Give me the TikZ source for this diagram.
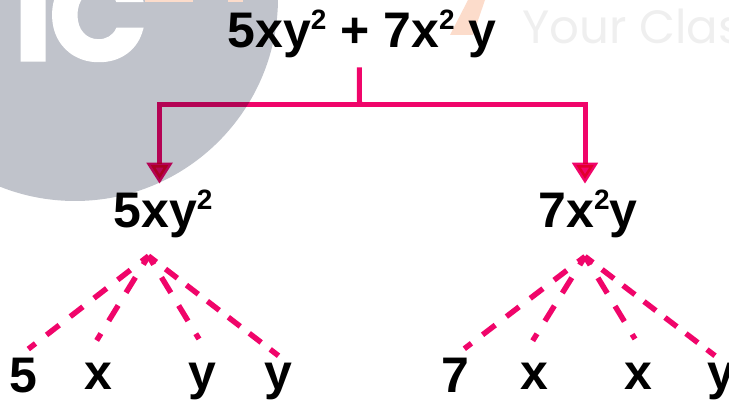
\documentclass[tikz,border=0pt]{standalone}
\usepackage{fontspec}
\setmainfont{Liberation Sans}
\newfontfamily\markfont{Poppins}
\newfontfamily\markheavy[UprightFont=* Bold,FakeBold=2.5]{Poppins}
\usetikzlibrary{arrows.meta, positioning}
\definecolor{pinkline}{HTML}{F0056A}
\definecolor{markgray}{HTML}{C0C3CB}
\definecolor{markpeach}{HTML}{FCDCCB}
\definecolor{marktext}{HTML}{EFEFEF}
\newcommand{\sqd}{\raisebox{14pt}{\fontsize{21}{21}\selectfont\bfseries 2}}
\tikzset{
  term/.style={anchor=base,inner sep=0pt,text height=26.25pt,text depth=0pt,font=\fontsize{37.5}{38}\selectfont\bfseries},
  branch/.style={draw=pinkline,line width=3.75pt,blend mode=multiply},
  arrowline/.style={branch,-{Triangle[width=18.75pt,length=15.75pt]}},
  dashline/.style={draw=pinkline,line width=4.1pt,dash pattern=on 11.25pt off 8.55pt,dash phase=3.75pt},
  dashwide/.style={dashline,dash pattern=on 12pt off 10.5pt,dash phase=5.3pt},
  dashsteep/.style={dashline,dash pattern=on 13.5pt off 11.25pt,dash phase=6pt}
}

\begin{document}
\begin{tikzpicture}[x=0.75pt,y=-0.75pt]
\useasboundingbox (0,0) rectangle (729,402);
\begin{scope}
\clip (0,0) rectangle (729,402);
\fill[markgray] (75,-2) circle (203);
\node[anchor=base west,inner sep=0pt,text=white,font=\fontsize{96}{96}\selectfont\markheavy] (markic) at (14,60) {I\kern-2pt C};
\fill[markpeach] (145,0) rectangle (193,2);
\fill[markpeach] (228,0) rectangle (243,2);
\fill[markpeach] (468,0) -- (485,0) -- (473,35) -- (450,35) -- cycle;
\node[anchor=base west,inner sep=0pt,text=marktext,font=\fontsize{35}{36}\selectfont\markfont] (markclass) at (522,44) {Your Clas};
\end{scope}
% terms
\node[term] (root) at (362,48) {5xy\sqd{} + 7x\sqd{} y};
\node[term] (left) at (163,228) {5xy\sqd};
\node[term] (right) at (588,228) {7x\sqd y};
\node[term] (leafa) at (23.5,393) {5};
\node[term] (leafb) at (98,390) {x};
\node[term] (leafc) at (202,390) {y};
\node[term] (leafd) at (278.5,390) {y};
\node[term] (leafe) at (455,393) {7};
\node[term] (leaff) at (534.5,390) {x};
\node[term] (leafg) at (638,390) {x};
\node[term] (leafh) at (721,390) {y};
\coordinate (fork) at (359.5,104.5);
\coordinate (apexa) at (148.5,256);
\coordinate (apexb) at (585,256.5);
% split
\draw[branch,shorten >=1.875pt] ([xshift=-1.9pt,yshift=-14.25pt]root.south) -- (fork);
\draw[arrowline] (fork) -| ([xshift=-2.6pt,yshift=6.75pt]left.north);
\draw[arrowline] (fork) -| ([xshift=-2.25pt,yshift=6.75pt]right.north);
% factors
\draw[dashwide] (apexa) -- ([xshift=3.6pt,yshift=6.5pt]leafa.north);
\draw[dashsteep] (apexa) -- ([xshift=-1pt,yshift=10.7pt]leafb.north);
\draw[dashsteep] (apexa) -- ([xshift=-2.25pt,yshift=11.8pt]leafc.north);
\draw[dashline] (apexa) -- ([yshift=-0.75pt]leafd.north);
\draw[dashwide] (apexb) -- ([xshift=7pt,yshift=6.75pt]leafe.north);
\draw[dashsteep] (apexb) -- ([xshift=-1.35pt,yshift=10.5pt]leaff.north);
\draw[dashsteep] (apexb) -- ([xshift=-2.25pt,yshift=11.8pt]leafg.north);
\draw[dashline] (apexb) -- ([xshift=-4.5pt,yshift=-0.75pt]leafh.north);
\end{tikzpicture}
\end{document}
